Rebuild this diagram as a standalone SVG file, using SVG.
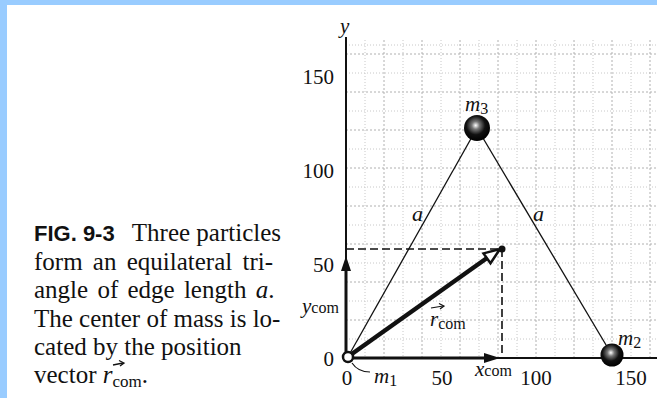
<svg xmlns="http://www.w3.org/2000/svg" width="657" height="398" viewBox="0 0 657 398">
<style>
.t{font-family:"Liberation Serif","Times New Roman",serif;fill:#111}
.cap{font-size:25px}
.lbl{font-size:21px}
.it{font-style:italic}
.sub{font-size:16px}
.grid{stroke:#c8c8c8;stroke-width:1;stroke-dasharray:1 2;fill:none}
.gridM{stroke:#b0b0b0;stroke-width:1;stroke-dasharray:2 2;fill:none}
.dash{stroke:#111;stroke-width:1.6;stroke-dasharray:8 4;fill:none}
.edge{stroke:#111;stroke-width:1.3;fill:none}
</style>
<defs>
<radialGradient id="ball" cx="0.45" cy="0.4" r="0.6">
<stop offset="0" stop-color="#ffffff"/>
<stop offset="0.25" stop-color="#777"/>
<stop offset="0.6" stop-color="#111"/>
<stop offset="1" stop-color="#000"/>
</radialGradient>
</defs>
<rect width="657" height="398" fill="#fff"/>
<rect x="0" y="0" width="657" height="5" fill="#99ccff"/>
<rect x="0" y="0" width="7" height="398" fill="#99ccff"/>
<g id="caption" class="t cap">
<text x="34" y="241" style="font-family:'Liberation Sans',Arial,sans-serif;font-weight:bold;font-size:22px">FIG. 9-3</text>
<text x="281" y="241" text-anchor="end">Three particles</text>
<text x="34" y="269.5" word-spacing="4">form an equilateral tri-</text>
<text x="34" y="298" word-spacing="3">angle of edge length <tspan class="it">a</tspan>.</text>
<text x="34" y="326.5">The center of mass is lo-</text>
<text x="34" y="355">cated by the position</text>
<text x="34" y="383">vector <tspan class="it">r</tspan><tspan style="font-size:17px" dy="4">com</tspan><tspan dy="-4">.</tspan></text>
<path d="M113 365 L123 363" stroke="#111" stroke-width="1.3"/>
<path d="M119 360.5 L124 363 L120 366" fill="none" stroke="#111" stroke-width="1.3"/>
</g>
<g id="grid">
<path class="grid" d="M346 339H657M346 301H657M346 263H657M346 225H657M346 187H657M346 149H657M346 111H657M346 73H657M346 45H657"/>
<path class="gridM" d="M346 320H657M346 282H657M346 244H657M346 206H657M346 168H657M346 130H657M346 92H657M346 54H657"/>
<path class="grid" d="M365 40V358M403 40V358M441 40V358M479 40V358M517 40V358M555 40V358M593 40V358M631 40V358"/>
<path class="gridM" d="M384 40V358M422 40V358M460 40V358M498 40V358M536 40V358M574 40V358M612 40V358M650 40V358"/>
</g>
<g id="axes">
<line x1="346" y1="358" x2="657" y2="358" stroke="#111" stroke-width="2"/>
<line x1="346" y1="358" x2="346" y2="37" stroke="#111" stroke-width="2"/>
<text class="t it" x="340" y="33" font-size="21">y</text>
<g class="t lbl" text-anchor="end">
<text x="334" y="84">150</text>
<text x="334" y="178">100</text>
<text x="334" y="272">50</text>
<text x="334" y="366">0</text>
</g>
<g class="t lbl" text-anchor="middle">
<text x="347" y="385">0</text>
<text x="442" y="385">50</text>
<text x="536" y="385">100</text>
<text x="631" y="385">150</text>
</g>
</g>
<g id="connectors">
<line class="edge" x1="349" y1="355" x2="477" y2="128"/>
<line class="edge" x1="477" y1="128" x2="612" y2="355"/>
<line class="dash" x1="346" y1="249" x2="502" y2="249"/>
<line class="dash" x1="502" y1="249" x2="502" y2="358"/>
<line x1="346" y1="358" x2="346" y2="270" stroke="#111" stroke-width="3"/>
<polygon points="346,256 341,271 351,271" fill="#111"/>
<line x1="348" y1="358" x2="485" y2="358" stroke="#111" stroke-width="3"/>
<polygon points="500,358 484,353 484,363" fill="#111"/>
<line x1="349" y1="356" x2="487" y2="258" stroke="#111" stroke-width="4.5"/>
<polygon points="500,249 490.5,263.2 483.5,253.4" fill="#fff" stroke="#111" stroke-width="2.5"/>
<path d="M352 363 Q358 372 370 372" fill="none" stroke="#111" stroke-width="1.2"/>
</g>
<g id="m1">
<circle cx="348" cy="357" r="5" fill="#fff" stroke="#111" stroke-width="2.5"/>
<text class="t lbl" x="374" y="383"><tspan class="it">m</tspan><tspan class="sub" dy="3">1</tspan></text>
</g>
<g id="m2">
<circle cx="612" cy="355" r="11.5" fill="url(#ball)"/>
<text class="t lbl" x="618" y="345"><tspan class="it">m</tspan><tspan class="sub" dy="3">2</tspan></text>
</g>
<g id="m3">
<circle cx="477" cy="128" r="13" fill="url(#ball)"/>
<text class="t lbl" x="465" y="111"><tspan class="it">m</tspan><tspan class="sub" dy="3">3</tspan></text>
</g>
<g id="com">
<circle cx="502" cy="249" r="3.5" fill="#111"/>
</g>
<g id="labels" class="t lbl">
<text class="it" x="412" y="221" font-size="22">a</text>
<text class="it" x="533" y="221" font-size="22">a</text>
<text x="302" y="313"><tspan class="it">y</tspan><tspan class="sub">com</tspan></text>
<text x="475" y="376"><tspan class="it">x</tspan><tspan class="sub">com</tspan></text>
<text x="430" y="326"><tspan class="it">r</tspan><tspan class="sub" dy="3">com</tspan></text>
<path d="M431 308 L443 306" stroke="#111" stroke-width="1.2"/>
<path d="M439 303.5 L444 306 L440 309" fill="none" stroke="#111" stroke-width="1.2"/>
</g>
</svg>
